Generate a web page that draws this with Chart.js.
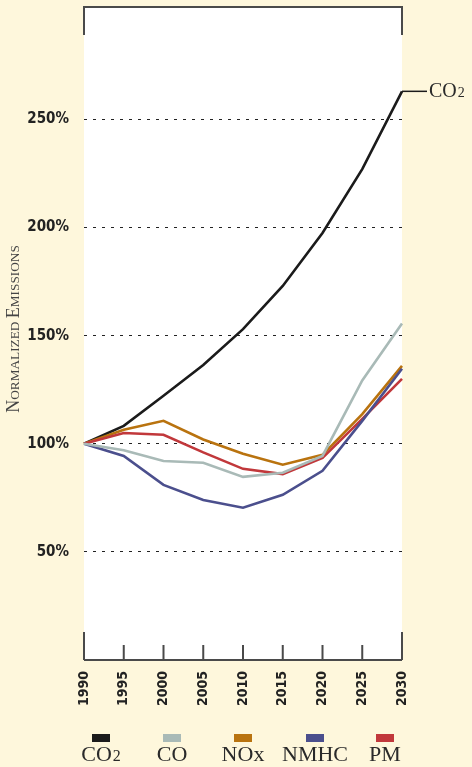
<!DOCTYPE html>
<html>
<head>
<meta charset="utf-8">
<script src="https://cdn.jsdelivr.net/npm/chart.js@4"></script>
<style>
  html, body { margin: 0; padding: 0; background: #fef7dc; }
  #wrap { width: 472px; height: 767px; position: relative; }
</style>
</head>
<body>
<div id="wrap"><canvas id="chart" width="472" height="767"></canvas></div>
<script>
// --------------------
// data
// --------------------
const years = ['1990', '1995', '2000', '2005', '2010', '2015', '2020', '2025', '2030'];
const co2  = [100, 108.3, 122.2, 136.4, 153, 173, 197.5, 227, 263];
const co   = [100, 97, 92, 91.2, 84.7, 86.6, 94.4, 129.3, 155.6];
const nox  = [100, 106.5, 110.6, 102, 95.4, 90.3, 94.9, 113.7, 136];
const nmhc = [100, 94.4, 81, 74, 70.4, 76.4, 87.5, 110.6, 134.7];
const pm   = [100, 105, 104.2, 96, 88.4, 86, 93.5, 111.5, 130];
const yTicks = [50, 100, 150, 200, 250];

const seriesNames = ['CO2', 'CO', 'NOx', 'NMHC', 'PM'];
const seriesColors = ['#1b1b1b', '#a9bab7', '#b9730f', '#4b4f8d', '#c1383b'];

const numFont = "'Liberation Sans Narrow', 'DejaVu Sans Condensed', 'Arial Narrow', sans-serif";
const serifFont = "'Liberation Serif', 'DejaVu Serif', serif";

function makeSet(i, values) {
    return {
        label: seriesNames[i],
        data: values,
        borderColor: seriesColors[i],
        backgroundColor: seriesColors[i],
        borderWidth: 2.6,
        pointRadius: 0,
        tension: 0,
        fill: false,
    };
}

// "CO2" style label: digit drawn smaller on the baseline
function drawChem(ctx, text, x, y, size, align) {
    const m = text.match(/^(.*?)(\d*)$/);
    const main = m[1], num = m[2];
    ctx.font = size + 'px ' + serifFont;
    const w1 = ctx.measureText(main).width;
    ctx.font = Math.round(size * 0.72) + 'px ' + serifFont;
    const w2 = num ? ctx.measureText(num).width + 1 : 0;
    let start = x;
    if (align === 'center') start = x - (w1 + w2) / 2;
    ctx.textAlign = 'left';
    ctx.font = size + 'px ' + serifFont;
    ctx.fillText(main, start, y);
    if (num) {
        ctx.font = Math.round(size * 0.72) + 'px ' + serifFont;
        ctx.fillText(num, start + w1 + 1, y);
    }
}

// white plot area + frame, end label, axis title and legend
const decorPlugin = {
    id: 'decor',
    beforeDraw(chart) {
        const { ctx, chartArea: a } = chart;
        ctx.save();
        ctx.fillStyle = '#fef7dc';
        ctx.fillRect(0, 0, chart.width, chart.height);
        ctx.fillStyle = '#ffffff';
        ctx.fillRect(a.left, a.top, a.right - a.left, a.bottom - a.top);
        ctx.restore();
    },
    afterDraw(chart) {
        const { ctx, chartArea: a } = chart;
        const xs = chart.scales.x;
        const ys = chart.scales.y;
        ctx.save();

        // frame
        ctx.strokeStyle = '#4a4a4a';
        ctx.lineWidth = 2;
        ctx.beginPath();
        ctx.moveTo(a.left, a.top + 28);
        ctx.lineTo(a.left, a.top);
        ctx.lineTo(a.right, a.top);
        ctx.lineTo(a.right, a.top + 28);
        ctx.moveTo(a.left, a.bottom);
        ctx.lineTo(a.right, a.bottom);
        years.forEach((y, i) => {
            const px = xs.getPixelForValue(i);
            const h = (i === 0 || i === years.length - 1) ? 28 : 15;
            ctx.moveTo(px, a.bottom);
            ctx.lineTo(px, a.bottom - h);
        });
        ctx.stroke();

        // CO2 end label
        const last = co2.length - 1;
        const ex = xs.getPixelForValue(last);
        const ey = ys.getPixelForValue(co2[last]);
        ctx.strokeStyle = '#1b1b1b';
        ctx.lineWidth = 1.5;
        ctx.beginPath();
        ctx.moveTo(ex, ey);
        ctx.lineTo(ex + 25, ey);
        ctx.stroke();
        ctx.fillStyle = '#2a2a2a';
        ctx.textBaseline = 'alphabetic';
        drawChem(ctx, 'CO2', ex + 27, ey + 6, 20, 'left');

        // y axis title in small caps
        ctx.save();
        ctx.translate(19, 329);
        ctx.rotate(-Math.PI / 2);
        ctx.fillStyle = '#444';
        ctx.textBaseline = 'alphabetic';
        const parts = [['N', 18], ['ORMALIZED ', 13.3], ['E', 18], ['MISSIONS', 13.3]];
        let total = 0;
        parts.forEach(([t, s]) => { ctx.font = s + 'px ' + serifFont; total += ctx.measureText(t).width; });
        let x0 = -total / 2;
        parts.forEach(([t, s]) => {
            ctx.font = s + 'px ' + serifFont;
            ctx.fillText(t, x0, 0);
            x0 += ctx.measureText(t).width;
        });
        ctx.restore();

        // legend
        const legendX = [101, 172, 243, 315, 385];
        ctx.textBaseline = 'alphabetic';
        seriesNames.forEach((name, i) => {
            ctx.fillStyle = seriesColors[i];
            ctx.fillRect(legendX[i] - 9, 734, 18, 8);
            ctx.fillStyle = '#2a2a2a';
            drawChem(ctx, name, legendX[i], 761, 22, 'center');
        });

        ctx.restore();
    }
};

const config = {
    type: 'line',
    data: {
        labels: years,
        datasets: [
            makeSet(1, co),
            makeSet(3, nmhc),
            makeSet(4, pm),
            makeSet(2, nox),
            makeSet(0, co2),
        ]
    },
    options: {
        responsive: false,
        animation: false,
        layout: { padding: { top: 7, right: 70, left: 0, bottom: 0 } },
        plugins: {
            legend: { display: false },
            tooltip: { enabled: false },
        },
        scales: {
            x: {
                type: 'category',
                offset: false,
                grid: { display: false, drawTicks: false },
                border: { display: false },
                ticks: {
                    autoSkip: false,
                    maxRotation: 90,
                    minRotation: 90,
                    padding: 11,
                    color: '#222',
                    font: { family: numFont, size: 14, weight: 'bold' },
                },
                afterFit(scale) {
                    scale.height = 107;
                    scale.paddingLeft = 0;
                    scale.paddingRight = 0;
                },
            },
            y: {
                min: 0,
                max: 302,
                afterBuildTicks(scale) {
                    scale.ticks = yTicks.map(v => ({ value: v }));
                },
                grid: { color: '#222', lineWidth: 1, drawTicks: false },
                border: { display: false, dash: [3, 6] },
                ticks: {
                    padding: 15,
                    color: '#222',
                    font: { family: numFont, size: 15, weight: 'bold' },
                    callback: (v) => v + '%',
                },
                afterFit(scale) {
                    scale.width = 84;
                    scale.paddingTop = 0;
                    scale.paddingBottom = 0;
                },
            }
        }
    },
    plugins: [decorPlugin],
};

new Chart(document.getElementById('chart'), config);
</script>
</body>
</html>
